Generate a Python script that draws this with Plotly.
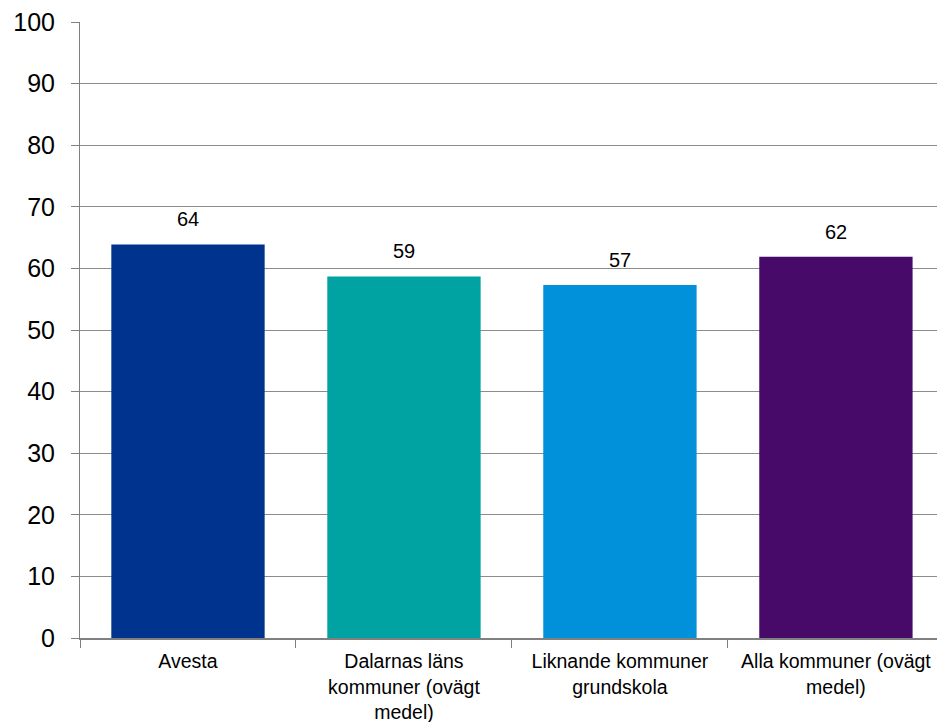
import plotly.graph_objects as go

categories = ["Avesta", "Dalarnas läns<br>kommuner (ovägt<br>medel)",
              "Liknande kommuner<br>grundskola", "Alla kommuner (ovägt<br>medel)"]
values = [63.9, 58.7, 57.3, 61.9]
labels = ["64", "59", "57", "62"]
colors = ["#00338D", "#00A3A1", "#0091DA", "#470A68"]

fig = go.Figure()
fig.add_trace(go.Bar(x=categories, y=values, marker=dict(color=colors, line=dict(width=0)),
                     width=0.71, showlegend=False))
for c, v, t in zip(categories, values, labels):
    fig.add_annotation(x=c, y=v, text=t, showarrow=False, yanchor="bottom", yshift=12,
                       font=dict(size=20, color="#000000"))

fig.update_layout(
    width=937, height=722,
    margin=dict(l=80, r=0, t=22, b=84),
    paper_bgcolor="white", plot_bgcolor="white",
    font=dict(family="Liberation Sans, Arial, sans-serif", color="#000000"),
    bargap=0.29,
)
fig.update_yaxes(range=[0, 100], dtick=10, showgrid=True, gridcolor="#8c8c8c", gridwidth=1,
                 showline=True, linecolor="#808080", linewidth=1, ticks="outside", ticklen=8,
                 tickcolor="#808080", tickfont=dict(size=25), zeroline=False,
                 automargin=False, ticklabelstandoff=11)
fig.update_xaxes(range=[-0.5, 3.468], showline=True, linecolor="#808080", linewidth=2,
                 ticks="outside", tickson="boundaries", ticklen=8, tickcolor="#808080",
                 tickfont=dict(size=19.5), tickangle=0, automargin=False,
                 ticklabelstandoff=5)

fig.write_html("out.html", config={"displayModeBar": False},
               post_script="document.body.style.margin='0';document.body.style.overflow='hidden';")
